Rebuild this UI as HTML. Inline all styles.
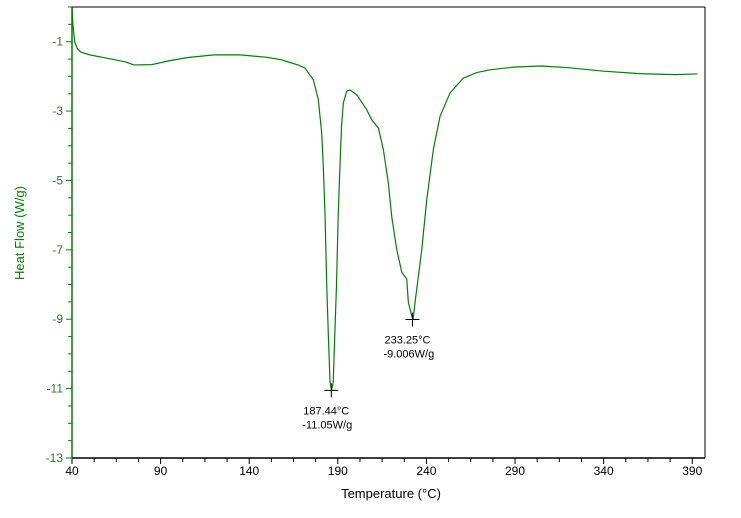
<!DOCTYPE html>
<html><head><meta charset="utf-8"><style>
body{margin:0;background:#fff;width:741px;height:513px;overflow:hidden}
svg{font-family:"Liberation Sans",Arial,sans-serif}
</style></head><body>
<svg id="chart" width="741" height="513">
<g id="g"></g>
</svg>
<script>
const temps=[40,40.5,41.5,43,45,50,60,70,75,85,95,105,120,135,150,158,163,167.5,171.5,176.2,179,180.9,181.8,182.8,183.7,184.6,185.6,186.5,187.4,189.3,190.2,191.2,192.1,193.1,195,196.9,200.7,206.3,209.1,212.9,215.7,218.5,220.4,223.2,226.1,228.9,229.8,231.7,232.5,233.6,237.4,240.2,243.9,247.7,253.3,260.8,268.4,275.9,290,305,320,340,360,380,393];
const flows=[0,-0.5,-1.0,-1.2,-1.3,-1.38,-1.48,-1.58,-1.67,-1.66,-1.55,-1.46,-1.38,-1.38,-1.45,-1.52,-1.6,-1.67,-1.76,-2.1,-2.67,-3.63,-4.59,-6.03,-7.94,-9.38,-10.81,-11.05,-10.81,-7.94,-6.03,-4.59,-3.44,-2.77,-2.43,-2.39,-2.53,-2.96,-3.25,-3.49,-4.11,-5.07,-6.03,-6.98,-7.65,-7.84,-8.51,-8.9,-9.006,-8.51,-6.98,-5.55,-4.11,-3.15,-2.48,-2.05,-1.89,-1.81,-1.73,-1.7,-1.75,-1.85,-1.92,-1.95,-1.93];
const xTicks=[40,90,140,190,240,290,340,390];
const yTicks=[-1,-3,-5,-7,-9,-11,-13];
const peakT=[187.44,233.25];
const peakV=[-11.05,-9.006];
const peakLabels=[["187.44°C","-11.05W/g"],["233.25°C","-9.006W/g"]];
const L=72,R=705,T=7,B=458,xmin=40,xmax=397.2,ymin=-13,ymax=0;
const X=v=>L+(v-xmin)/(xmax-xmin)*(R-L);
const Y=v=>B-(v-ymin)/(ymax-ymin)*(B-T);
const g=document.getElementById('g');const NS='http://www.w3.org/2000/svg';
function mk(t,a,txt){const e=document.createElementNS(NS,t);for(const k in a)e.setAttribute(k,a[k]);if(txt!=null)e.textContent=txt;g.appendChild(e);return e;}
let e;
e=mk('line',{x1:L,y1:T,x2:R,y2:T,stroke:'#000','stroke-width':1});


e=mk('line',{x1:R,y1:T,x2:R,y2:B,stroke:'#000','stroke-width':1});


e=mk('line',{x1:L,y1:B,x2:R,y2:B,stroke:'#000','stroke-width':1.5});


e=mk('line',{x1:L,y1:T,x2:L,y2:B,stroke:'#008000','stroke-width':1.5});


for(let v=40;v<=xmax;v+=12.5){e=mk('line',{x1:X(v),y1:B,x2:X(v),y2:B+(Math.abs((v-40)%50)<0.01?6:4),stroke:'#000'});

}
xTicks.forEach(v=>{e=mk('text',{x:X(v),y:B+17,'text-anchor':'middle','font-size':12,fill:'#000'},String(v));

});
for(let v=-13;v<=0;v+=0.5){e=mk('line',{x1:L-(Math.abs(v%2)===1?6:4),y1:Y(v),x2:L,y2:Y(v),stroke:'#008000'});

}
yTicks.forEach(v=>{e=mk('text',{x:L-9,y:Y(v)+4,'text-anchor':'end','font-size':12,fill:'#2a7a2a'},String(v));

});
e=mk('text',{x:391,y:498,'text-anchor':'middle','font-size':13,fill:'#000'},'Temperature (°C)');


e=mk('text',{x:24,y:233,'text-anchor':'middle','font-size':13,fill:'#008000',transform:'rotate(-90 24 233)'},'Heat Flow (W/g)');


e=mk('polyline',{points:temps.map((t,i)=>X(t)+','+Y(flows[i])).join(' '),fill:'none',stroke:'#008000','stroke-width':1.2});


peakT.forEach((t,i)=>{const px=X(t)-2,py=Y(peakV[i]);
e=mk('path',{d:`M${px-7},${py}H${px+7}M${px},${py-7}V${py+7}`,stroke:'#000','stroke-width':1});


e=mk('text',{x:px-28,y:py+24,'font-size':11,fill:'#000'},peakLabels[i][0]);


e=mk('text',{x:px-29,y:py+38,'font-size':11,fill:'#000'},peakLabels[i][1]);

});
</script>
</body></html>
